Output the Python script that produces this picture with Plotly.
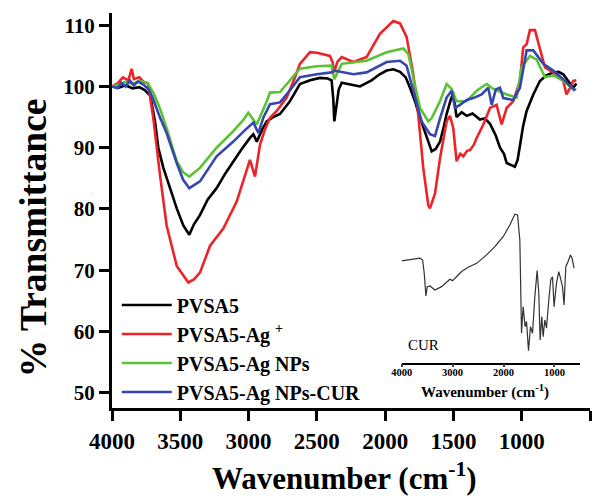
import plotly.graph_objects as go

# ---------------- data ----------------
wn_pvsa5 = [4000, 3950, 3900, 3850, 3800, 3760, 3720, 3685, 3661, 3624, 3575, 3526, 3478, 3434, 3400,
            3356, 3300, 3234, 3170, 3112, 3050, 2990, 2965, 2940, 2900, 2867, 2820, 2770, 2700, 2624,
            2550, 2477, 2420, 2392, 2380, 2372, 2360, 2340, 2318, 2250, 2184, 2100, 2040, 1989, 1940,
            1891, 1850, 1818, 1780, 1745, 1696, 1659, 1630, 1598, 1570, 1550, 1520, 1501, 1477, 1440,
            1403, 1360, 1306, 1270, 1232, 1190, 1159, 1130, 1110, 1080, 1050, 1030, 1013, 990, 964,
            940, 915, 867, 820, 769, 730, 696, 660, 623, 600]
t_pvsa5 = [100, 99.8, 100.2, 99.7, 99.9, 99.4, 98.5, 94.3, 90.0, 86.7, 83.4, 80.1, 77.3, 75.8, 77.5,
           79.0, 81.5, 83.4, 85.8, 87.8, 89.8, 91.6, 92.2, 91.0, 93.0, 94.3, 95.0, 95.5, 97.5, 100.4,
           101.0, 101.4, 101.3, 101.0, 98.0, 94.3, 96.5, 99.5, 100.6, 100.3, 100.0, 101.0, 102.0, 102.6, 102.8,
           102.4, 101.5, 99.8, 97.5, 94.9, 91.6, 89.4, 89.8, 91.0, 93.5, 95.5, 97.8, 99.0, 95.0, 95.8,
           95.2, 95.6, 94.6, 94.8, 93.9, 92.0, 90.0, 89.0, 87.5, 87.2, 86.9, 88.0, 90.5, 93.5, 96.0,
           97.5, 98.7, 100.9, 101.8, 102.3, 102.4, 102.0, 101.0, 99.8, 100.5]

wn_ag_ion = [4000, 3960, 3920, 3880, 3856, 3840, 3800, 3770, 3736, 3698, 3649, 3600, 3526, 3441, 3400,
             3356, 3282, 3185, 3087, 3014, 2990, 2953, 2916, 2880, 2843, 2794, 2721, 2660, 2624, 2550,
             2500, 2404, 2385, 2374, 2350, 2318, 2233, 2136, 2038, 1941, 1891, 1843, 1794, 1758, 1721,
             1684, 1672, 1635, 1598, 1550, 1525, 1501, 1477, 1450, 1428, 1400, 1379, 1350, 1330, 1281,
             1232, 1184, 1147, 1110, 1062, 1013, 989, 964, 940, 903, 867, 830, 769, 720, 696,
             672, 640, 623, 600]
t_ag_ion = [100, 100.5, 101.5, 101.0, 102.9, 101.2, 101.5, 100.8, 100.5, 94.9, 85.6, 77.3, 70.7, 68.0, 68.5,
            69.6, 74.0, 76.8, 81.2, 86.1, 88.0, 85.3, 90.5, 93.0, 94.9, 96.0, 98.2, 101.5, 103.7, 105.6,
            105.5, 105.0, 104.0, 102.3, 104.0, 104.8, 104.0, 104.8, 108.6, 110.7, 110.3, 108.1, 102.0, 95.5, 86.7,
            80.6, 80.1, 82.5, 88.3, 94.3, 95.2, 93.2, 87.8, 89.0, 88.6, 89.5, 89.6, 90.5, 91.6, 93.8,
            96.5, 97.0, 93.8, 96.5, 97.6, 100.9, 106.4, 106.9, 109.2, 109.2, 106.4, 103.1, 102.3, 101.5, 100.9,
            98.7, 100.0, 100.9, 101.0]

wn_ag_nps = [4000, 3950, 3900, 3850, 3800, 3740, 3698, 3650, 3600, 3526, 3480, 3434, 3356, 3234, 3112,
             3040, 3002, 2940, 2867, 2843, 2770, 2700, 2624, 2500, 2392, 2372, 2318, 2136, 1989, 1867,
             1830, 1794, 1745, 1684, 1660, 1598, 1550, 1513, 1477, 1403, 1330, 1257, 1208, 1110, 1037,
             1001, 940, 891, 830, 769, 696, 623, 600]
t_ag_nps = [100, 100.3, 100.8, 100.4, 100.9, 100.6, 99.0, 96.5, 93.2, 87.8, 86.0, 85.3, 86.7, 90.0, 92.7,
            94.5, 95.7, 93.8, 97.6, 99.0, 99.1, 101.0, 102.9, 103.3, 103.4, 101.2, 103.7, 104.2, 105.6, 106.2,
            105.3, 101.5, 96.5, 94.3, 94.8, 97.6, 100.4, 99.6, 97.6, 97.6, 99.3, 100.4, 99.6, 98.7, 98.2,
            103.1, 105.0, 104.4, 101.5, 101.8, 100.9, 99.6, 99.5]

wn_ag_nps_cur = [4000, 3960, 3930, 3900, 3870, 3840, 3810, 3770, 3730, 3700, 3650, 3600, 3526, 3480, 3434,
                 3356, 3234, 3112, 3030, 2965, 2928, 2892, 2843, 2770, 2700, 2624, 2500, 2392, 2372, 2233,
                 2136, 1989, 1891, 1843, 1794, 1733, 1672, 1635, 1598, 1550, 1513, 1489, 1452, 1403, 1355,
                 1294, 1245, 1220, 1190, 1159, 1135, 1062, 1013, 964, 915, 842, 769, 696, 610]
t_ag_nps_cur = [100, 99.7, 100.6, 100.0, 101.0, 100.2, 100.8, 100.3, 99.5, 98.0, 95.0, 92.4, 87.5, 84.8, 83.4,
                84.5, 88.6, 91.0, 92.8, 94.1, 92.4, 94.9, 97.1, 97.4, 99.3, 101.5, 102.0, 102.3, 102.6, 102.0,
                102.3, 104.0, 104.2, 103.4, 99.3, 94.3, 92.2, 91.9, 94.8, 98.2, 99.3, 96.5, 97.0, 97.8, 98.1,
                98.7, 99.8, 97.0, 99.5, 99.8, 98.1, 97.8, 99.8, 105.9, 105.9, 103.7, 102.6, 101.2, 99.3]

wn_cur = [4000, 3773, 3641, 3588, 3557, 3524, 3498, 3445, 3347, 3216, 3118, 3053, 3000, 2935, 2824,
          2694, 2529, 2333, 2171, 2008, 1876, 1778, 1725, 1680, 1647, 1616, 1576, 1549, 1510, 1471,
          1431, 1386, 1341, 1308, 1282, 1249, 1223, 1190, 1157, 1112, 1073, 1039, 1008, 961, 916,
          882, 843, 812, 778, 733, 686, 655, 616]
t_cur = [68.6, 69.3, 69.8, 69.0, 63.0, 52.8, 57.0, 57.3, 55.5, 57.0, 58.8, 60.3, 59.7, 61.2, 63.8,
         65.7, 67.5, 71.3, 75.0, 79.5, 84.8, 89.6, 89.3, 78.0, 36.0, 48.0, 39.0, 41.3, 28.2, 39.0,
         36.0, 52.5, 64.2, 54.0, 33.0, 43.5, 34.5, 42.0, 38.3, 51.0, 60.0, 61.5, 48.0, 58.5, 63.8,
         60.8, 57.0, 48.8, 66.0, 68.3, 71.3, 69.8, 65.3]

series_names = ["PVSA5", "PVSA5-Ag <sup>+</sup>", "PVSA5-Ag NPs", "PVSA5-Ag NPs-CUR"]
series_colors = ["#000000", "#ec2329", "#5bc236", "#3546b0"]
x_ticks = [4000, 3500, 3000, 2500, 2000, 1500, 1000, 500]
y_ticks = [50, 60, 70, 80, 90, 100, 110]
inset_ticks = [4000, 3000, 2000, 1000]

FONT = "Liberation Serif, Times New Roman, serif"

fig = go.Figure()
for xs, ys, name, col in zip([wn_pvsa5, wn_ag_ion, wn_ag_nps, wn_ag_nps_cur],
                             [t_pvsa5, t_ag_ion, t_ag_nps, t_ag_nps_cur],
                             series_names, series_colors):
    fig.add_trace(go.Scatter(x=xs, y=ys, mode="lines", name=name,
                             line=dict(color=col, width=2.6)))

fig.add_trace(go.Scatter(x=wn_cur, y=t_cur, mode="lines", showlegend=False,
                         line=dict(color="#333333", width=1.2), xaxis="x2", yaxis="y2"))

axis_common = dict(showline=True, linewidth=3, linecolor="black", ticks="outside",
                   ticklen=10, tickwidth=3, tickcolor="black", showgrid=False, zeroline=False)

fig.update_layout(
    width=599, height=490,
    margin=dict(l=104, r=17, t=5, b=90),
    paper_bgcolor="white", plot_bgcolor="white",
    xaxis=dict(range=[4000, 500], tickvals=x_ticks, domain=[0, 1],
               tickfont=dict(family=FONT, size=23, color="black", weight="bold"), **axis_common),
    yaxis=dict(range=[47.5, 112], tickvals=y_ticks,
               tickfont=dict(family=FONT, size=21, color="black", weight="bold"), **axis_common),
    xaxis2=dict(range=[4000, 500], domain=[0.606, 0.979], anchor="y2", showline=True,
                linewidth=1.5, linecolor="black", ticks="outside", ticklen=3, tickwidth=1.5,
                tickvals=inset_ticks, showgrid=False, zeroline=False, ticklabelstandoff=-4,
                tickfont=dict(family=FONT, size=10.5, color="black", weight="bold")),
    yaxis2=dict(range=[22.8, 91.3], domain=[0.115, 0.5], anchor="x2", visible=False),
    legend=dict(x=0.01, y=0.310, xanchor="left", yanchor="top", bgcolor="rgba(0,0,0,0)",
                font=dict(family=FONT, size=20, color="black", weight="bold"),
                itemwidth=50, tracegroupgap=0),
    showlegend=True,
    annotations=[
        dict(text="% Transmittance", xref="paper", yref="paper", x=-0.165, y=0.430,
             xanchor="center", yanchor="middle", textangle=-90, showarrow=False,
             font=dict(family=FONT, size=37.5, color="black", weight="bold")),
        dict(text="Wavenumber (cm<sup>-1</sup>)", xref="paper", yref="paper", x=0.487, y=-0.174,
             xanchor="center", yanchor="middle", showarrow=False,
             font=dict(family=FONT, size=31, color="black", weight="bold")),
        dict(text="CUR", xref="paper", yref="paper", x=0.651, y=0.159,
             xanchor="center", yanchor="middle", showarrow=False,
             font=dict(family=FONT, size=15, color="black")),
        dict(text="Wavenumber (cm<sup>-1</sup>)", xref="paper", yref="paper", x=0.780, y=0.043,
             xanchor="center", yanchor="middle", showarrow=False,
             font=dict(family=FONT, size=15, color="black", weight="bold")),
    ],
)

fig.write_html("out.html")
